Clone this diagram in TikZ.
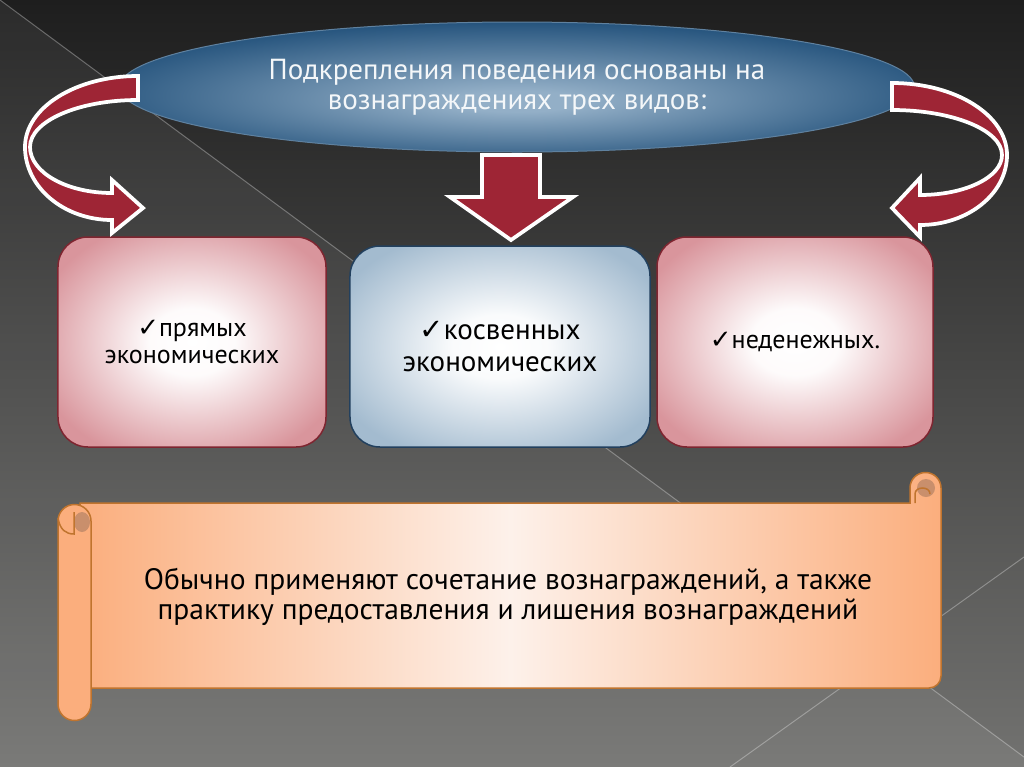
\documentclass[tikz,border=0pt]{standalone}
\usepackage{fontspec}
\setmainfont{PT Sans}
\newfontfamily\symfont{DejaVu Sans}
\usetikzlibrary{shapes.geometric}
\definecolor{bgtop}{HTML}{1E1E1E}
\definecolor{bgbot}{HTML}{727270}
\definecolor{crimson}{HTML}{9E2535}
\definecolor{ellout}{HTML}{1B4B76}
\definecolor{ellin}{HTML}{93AFC7}
\definecolor{boxpink}{HTML}{D9959C}
\definecolor{boxred}{HTML}{7E2530}
\definecolor{boxblue}{HTML}{A3BBCF}
\definecolor{boxnavy}{HTML}{22405E}
\definecolor{scrollorange}{HTML}{FBAE7D}
\definecolor{scrolllight}{HTML}{FDF1EA}
\definecolor{scrolledge}{HTML}{C0742E}
\definecolor{scrolldark}{HTML}{C98F6C}
\pgfdeclareradialshading{softpink}{\pgfpointorigin}{color(0bp)=(white); color(8bp)=(white!96!boxpink); color(30bp)=(boxpink); color(50bp)=(boxpink)}
\pgfdeclareradialshading{softblue}{\pgfpointorigin}{color(0bp)=(white); color(8bp)=(white!94!boxblue); color(30bp)=(boxblue); color(50bp)=(boxblue)}
\pgfdeclareradialshading{ellshade}{\pgfpoint{0bp}{-6bp}}{color(0bp)=(ellin); color(4bp)=(ellin); color(30bp)=(ellout); color(50bp)=(ellout)}
\newcommand{\chk}{{\symfont ✓}}

\begin{document}
\begin{tikzpicture}[x=0.2mm, y=-0.2mm,
    bigarrow/.style={fill=crimson, draw=white, line width=0.75mm, line join=miter},
    pinkbox/.style={rounded corners=6mm, draw=boxred, line width=0.3mm, shading=softpink, minimum width=53.6mm, minimum height=42mm, align=center, text=black, font=\fontsize{14.8}{15.4}\selectfont},
    bluebox/.style={rounded corners=6mm, draw=boxnavy, line width=0.3mm, shading=softblue, minimum width=60mm, minimum height=40.2mm, align=center, text=black, font=\fontsize{16.5}{18}\selectfont},
    scroll/.style={draw=scrolledge, line width=0.3mm, left color=scrollorange, right color=scrollorange, middle color=scrolllight},
    roll/.style={draw=scrolledge, line width=0.3mm, fill=scrollorange},
    bgline/.style={draw=white, opacity=0.3, line width=0.2mm}]
    \useasboundingbox (0,0) rectangle (1024,767);

    % Draw the background
    \fill[top color=bgtop, bottom color=bgbot] (0,0) rectangle (1024,767);
    \fill[white, opacity=0.06] (0,0) -- (1024,757) -- (1024,767) -- (0,767) -- cycle;
    \draw[bgline] (0,0) -- (1024,757);
    \draw[bgline] (1024,557) -- (730,767);

    % Draw the ellipse with the heading
    \node[ellipse, shading=ellshade, draw=ellout!70!white, line width=0.2mm, minimum width=159mm, minimum height=26mm, inner sep=0pt, align=center, text=white!90!ellin, font=\fontsize{16.5}{17}\selectfont] (title) at (517,87)
        {Подкрепления поведения основаны на\\ вознаграждениях трех видов:};

    % Draw the three boxes
    \node[pinkbox] (direct) at (192,342) {\chk прямых\\ экономических};
    \node[bluebox] (indirect) at (500,346.5) {\chk косвенных\\ экономических};
    \node[pinkbox, minimum width=55.2mm] (nonmoney) at (795,342) {\chk неденежных.};

    % Draw the block arrows
    \draw[bigarrow] (482,155) -- (540,155) -- (540,197) -- (573,197) -- (511,240) -- (450,197) -- (482,197) -- cycle;
    \draw[bigarrow] (138,76) arc[start angle=270, end angle=180, x radius=113, y radius=71]
        arc[start angle=180, end angle=90, x radius=87, y radius=73]
        -- (112,233) -- (143,208) -- (112,180) -- (112,193)
        arc[start angle=90, end angle=180, x radius=82, y radius=46]
        arc[start angle=180, end angle=270, x radius=108, y radius=47] -- cycle;
    \draw[bigarrow] (892,83) arc[start angle=270, end angle=360, x radius=115, y radius=72]
        arc[start angle=0, end angle=90, x radius=87, y radius=70]
        -- (920,237) -- (892,208) -- (920,178) -- (920,195)
        arc[start angle=90, end angle=0, x radius=82, y radius=40]
        arc[start angle=0, end angle=-90, x radius=110, y radius=45] -- cycle;

    % Draw the scroll
    \draw[scroll] (80,503) -- (910,503) -- (910,488) arc[start angle=180, end angle=360, radius=15.5]
        -- (941,676) arc[start angle=0, end angle=90, radius=12] -- (80,688) -- cycle;
    \fill[scrolldark] (926,488) circle[radius=9];
    \draw[scrolledge, line width=0.3mm] (915,503) -- (915,494) .. controls (915,486) and (930,486) .. (930,494);
    \draw[roll] (58,521) arc[start angle=180, end angle=360, radius=16.5]
        -- (91,704) arc[start angle=0, end angle=180, radius=16.5] -- cycle;
    \fill[scrolldark] (82,522) ellipse[x radius=8, y radius=10];
    \draw[scrolledge, line width=0.3mm] (58,518) .. controls (60,530) and (66,534) .. (74,534) -- (74,512);
    \node[align=center, text=black, font=\fontsize{16.8}{17}\selectfont] (note) at (508,597)
        {Обычно применяют сочетание вознаграждений, а также\\ практику предоставления и лишения вознаграждений};
\end{tikzpicture}
\end{document}
